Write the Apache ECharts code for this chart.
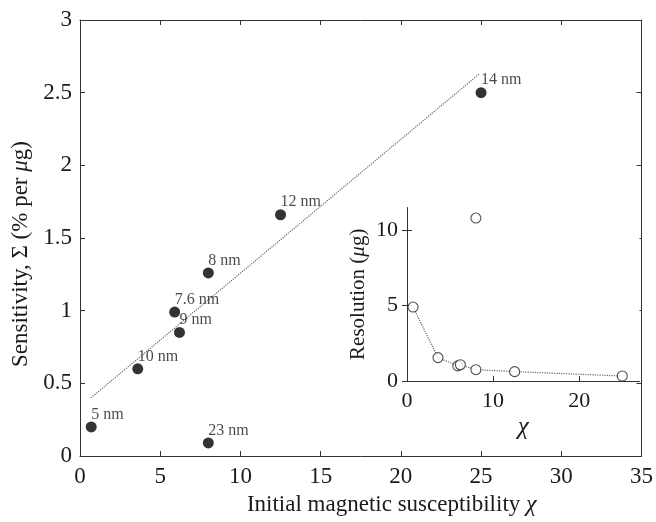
<!DOCTYPE html>
<html>
<head>
<meta charset="utf-8">
<script src="https://cdn.jsdelivr.net/npm/echarts@6/dist/echarts.min.js"></script>
<style>html,body{margin:0;padding:0;background:#fff}#c{width:656px;height:522px}</style>
</head>
<body>
<div id="c"></div>
<script>
// Main plot: sensitivity vs initial susceptibility
const chi = [0.7, 3.6, 5.9, 6.2, 8.0, 8.0, 12.5, 25.0];
const sensitivity = [0.20, 0.60, 0.99, 0.85, 1.26, 0.09, 1.66, 2.50];
const sizeLabels = ['5 nm', '10 nm', '7.6 nm', '9 nm', '8 nm', '23 nm', '12 nm', '14 nm'];
// Linear trend line endpoints
const trendChi = [0.68, 24.9];
const trendSens = [0.40, 2.63];
// Inset: resolution vs chi
const resChi = [0.7, 3.6, 5.9, 6.2, 8.0, 8.0, 12.5, 25.0];
const resVal = [4.9, 1.55, 1.0, 1.08, 0.75, 10.8, 0.62, 0.33];
const resConnected = [true, true, true, true, true, false, true, true];
// Tick settings
const mainXTicks = {min: 0, max: 35, interval: 5};
const mainYTicks = {min: 0, max: 3, interval: 0.5};
const insetXTicks = {min: 0, max: 27};
const insetYTicks = {min: 0, max: 11.5};
const insetXTickValues = [0, 10, 20];
const insetYTickValues = [0, 5, 10];

const FONT = '"Liberation Serif","Times New Roman",serif';
const axisCol = '#333';
const txtCol = '#1a1a1a';

const mainPts = chi.map((x, i) => ({value: [x, sensitivity[i]], label: {formatter: sizeLabels[i]}}));
const trendPts = trendChi.map((x, i) => [x, trendSens[i]]);
const resPts = resChi.map((x, i) => [x, resVal[i]]);
const resLinePts = resPts.filter((p, i) => resConnected[i]);

const tickStyle = {inside: true, length: 5, lineStyle: {color: axisCol}};
const lineStyleAx = {onZero: false, lineStyle: {color: axisCol, width: 1}};

const chart = echarts.init(document.getElementById('c'));
chart.setOption({
  animation: false,
  backgroundColor: '#fff',
  textStyle: {fontFamily: FONT},
  grid: [
    {left: 80, right: 14, top: 20, bottom: 66, show: false},
    {left: 407, right: 16.5, top: 207.5, bottom: 141, show: true, backgroundColor: '#fff', borderWidth: 0, z: 5}
  ],
  xAxis: [
    {gridIndex: 0, type: 'value', ...mainXTicks, position: 'bottom',
     axisLine: lineStyleAx, axisTick: tickStyle, splitLine: {show: false},
     axisLabel: {color: txtCol, fontSize: 23, fontFamily: FONT, margin: 9},
     name: 'Initial magnetic susceptibility {i|χ}', nameLocation: 'middle', nameGap: 35,
     nameTextStyle: {color: txtCol, fontSize: 23, fontFamily: FONT, padding: [0, 0, 0, 62],
                     rich: {i: {fontStyle: 'italic', fontSize: 24, fontFamily: FONT}}}},
    {gridIndex: 0, type: 'value', ...mainXTicks, position: 'top',
     axisLine: lineStyleAx, axisTick: tickStyle, splitLine: {show: false}, axisLabel: {show: false}},
    {gridIndex: 1, type: 'value', ...insetXTicks, position: 'bottom', z: 6,
     axisLine: lineStyleAx, axisTick: {...tickStyle, customValues: insetXTickValues}, splitLine: {show: false},
     axisLabel: {color: txtCol, fontSize: 22, fontFamily: FONT, margin: 9, customValues: insetXTickValues},
     name: '{i|χ}', nameLocation: 'middle', nameGap: 34,
     nameTextStyle: {color: txtCol, fontSize: 22, fontFamily: FONT, rich: {i: {fontStyle: 'italic', fontSize: 25, fontFamily: FONT}}}}
  ],
  yAxis: [
    {gridIndex: 0, type: 'value', ...mainYTicks, position: 'left',
     axisLine: lineStyleAx, axisTick: tickStyle, splitLine: {show: false},
     axisLabel: {color: txtCol, fontSize: 23, fontFamily: FONT, margin: 8},
     name: 'Sensitivity, Σ (% per {i|μ}g)', nameLocation: 'middle', nameGap: 44,
     nameTextStyle: {color: txtCol, fontSize: 23, fontFamily: FONT, padding: [0, 32, 0, 0],
                     rich: {i: {fontStyle: 'italic', fontSize: 23, fontFamily: FONT}}}},
    {gridIndex: 0, type: 'value', ...mainYTicks, position: 'right',
     axisLine: lineStyleAx, axisTick: tickStyle, splitLine: {show: false}, axisLabel: {show: false}},
    {gridIndex: 1, type: 'value', ...insetYTicks, position: 'left', z: 6,
     axisLine: lineStyleAx, axisTick: {...tickStyle, customValues: insetYTickValues}, splitLine: {show: false},
     axisLabel: {color: txtCol, fontSize: 22, fontFamily: FONT, margin: 9, customValues: insetYTickValues},
     name: 'Resolution ({i|μ}g)', nameLocation: 'middle', nameGap: 38,
     nameTextStyle: {color: txtCol, fontSize: 21, fontFamily: FONT, rich: {i: {fontStyle: 'italic', fontSize: 21, fontFamily: FONT}}}},
    {gridIndex: 1, type: 'value', ...insetYTicks, position: 'right', z: 6,
     axisLine: {show: false}, axisTick: {...tickStyle, customValues: insetYTickValues}, splitLine: {show: false},
     axisLabel: {show: false}}
  ],
  series: [
    {type: 'line', xAxisIndex: 0, yAxisIndex: 0, data: trendPts, symbol: 'none',
     lineStyle: {color: '#666', width: 1.2, type: 'dotted'}, z: 2},
    {type: 'scatter', xAxisIndex: 0, yAxisIndex: 0, data: mainPts, symbol: 'circle', symbolSize: 11,
     itemStyle: {color: '#000'}, z: 3,
     label: {show: true, position: 'top', align: 'left', distance: 0, offset: [0, 1],
             color: txtCol, fontSize: 16, fontFamily: FONT}},
    {type: 'line', xAxisIndex: 2, yAxisIndex: 2, data: resLinePts, symbol: 'none',
     lineStyle: {color: '#666', width: 1.2, type: 'dotted'}, z: 7},
    {type: 'scatter', xAxisIndex: 2, yAxisIndex: 2, data: resPts, symbol: 'circle', symbolSize: 10,
     itemStyle: {color: '#fff', borderColor: '#222', borderWidth: 1.1}, z: 8}
  ]
});
</script>
</body>
</html>
